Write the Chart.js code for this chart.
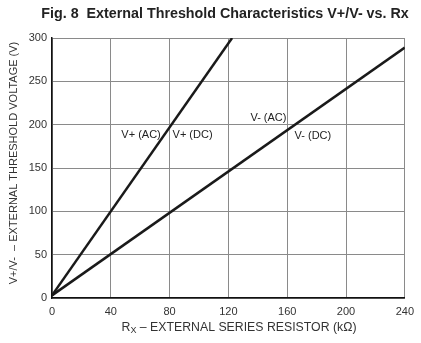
<!DOCTYPE html>
<html>
<head>
<meta charset="utf-8">
<script src="https://cdn.jsdelivr.net/npm/chart.js@4"></script>
<style>
  html, body { margin: 0; padding: 0; background: #fff; }
  #wrap { width: 421px; height: 343px; }
</style>
</head>
<body>
<div id="wrap"><canvas id="fig8" width="421" height="343"></canvas></div>
<script>
// external series resistor (kOhm) vs threshold voltage (V)
const rxValues = [0, 122.5];
const vPlus = [3, 300];
const rxValuesMinus = [0, 240];
const vMinus = [3, 289];
const xTicks = [0, 40, 80, 120, 160, 200, 240];
const yTicks = [0, 50, 100, 150, 200, 250, 300];
const curveLabels = [
  { text: 'V+ (AC)', x: 74, y: 188, align: 'right' },
  { text: 'V+ (DC)', x: 82, y: 188, align: 'left' },
  { text: 'V- (AC)', x: 159.5, y: 208, align: 'right' },
  { text: 'V- (DC)', x: 165, y: 187, align: 'left' }
];

const font = '"Liberation Sans", Arial, sans-serif';
const ctx = document.getElementById('fig8');

// title, axis titles and curve labels
const annotate = {
  id: 'annotate',
  afterDraw(chart) {
    const c = chart.ctx;
    const xs = chart.scales.x, ys = chart.scales.y;
    c.save();
    c.fillStyle = '#222';
    c.textBaseline = 'middle';

    c.font = 'bold 14.3px ' + font;
    c.textAlign = 'center';
    c.fillText('Fig. 8  External Threshold Characteristics V+/V- vs. Rx', 225, 14);

    c.font = '11px ' + font;
    curveLabels.forEach(l => {
      c.textAlign = l.align;
      c.fillText(l.text, xs.getPixelForValue(l.x), ys.getPixelForValue(l.y));
    });

    // x axis title with subscript X
    c.font = '12.3px ' + font;
    c.fillStyle = '#333';
    const rest = ' \u2013 EXTERNAL SERIES RESISTOR (k\u03A9)';
    const sub = '9px ' + font;
    const wR = c.measureText('R').width;
    c.font = sub;
    const wX = c.measureText('X').width;
    c.font = '12.3px ' + font;
    const wRest = c.measureText(rest).width;
    let x0 = 239 - (wR + wX + wRest) / 2;
    c.textAlign = 'left';
    c.fillText('R', x0, 328);
    c.font = sub;
    c.fillText('X', x0 + wR, 331);
    c.font = '12.3px ' + font;
    c.fillText(rest, x0 + wR + wX, 328);

    // y axis title
    c.font = '11px ' + font;
    c.translate(14, 163);
    c.rotate(-Math.PI / 2);
    c.textAlign = 'center';
    c.fillText('V+/V-  \u2013 EXTERNAL THRESHOLD VOLTAGE (V)', 0, 0);
    c.restore();
  }
};

new Chart(ctx, {
  type: 'scatter',
  data: {
    datasets: [
      {
        label: 'V+',
        data: rxValues.map((x, i) => ({ x: x, y: vPlus[i] })),
        showLine: true,
        borderColor: '#1a1a1a',
        borderWidth: 2.5,
        pointRadius: 0
      },
      {
        label: 'V-',
        data: rxValuesMinus.map((x, i) => ({ x: x, y: vMinus[i] })),
        showLine: true,
        borderColor: '#1a1a1a',
        borderWidth: 2.5,
        pointRadius: 0
      }
    ]
  },
  options: {
    responsive: false,
    animation: false,
    layout: { padding: { top: 38, right: 15, left: 0, bottom: 0 } },
    plugins: { legend: { display: false }, tooltip: { enabled: false } },
    scales: {
      x: {
        type: 'linear',
        min: 0, max: 240,
        afterBuildTicks: s => { s.ticks = xTicks.map(v => ({ value: v })); },
        afterFit: s => { s.height = 45; },
        ticks: { color: '#333', font: { family: font, size: 11 }, padding: 7 },
        grid: { color: '#8a8a8a', lineWidth: 1, drawTicks: false },
        border: { color: '#111', width: 1.5 }
      },
      y: {
        type: 'linear',
        min: 0, max: 300,
        afterBuildTicks: s => { s.ticks = yTicks.map(v => ({ value: v })); },
        afterFit: s => { s.width = 52; },
        ticks: { color: '#333', font: { family: font, size: 11 }, padding: 5 },
        grid: { color: '#8a8a8a', lineWidth: 1, drawTicks: false },
        border: { color: '#111', width: 1.5 }
      }
    }
  },
  plugins: [annotate]
});
</script>
</body>
</html>
